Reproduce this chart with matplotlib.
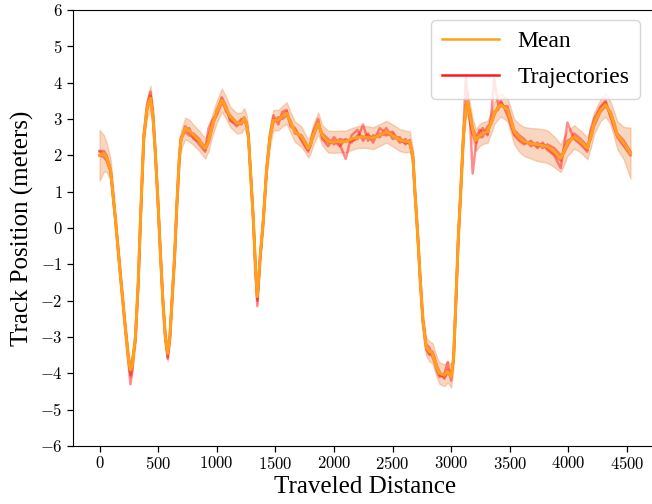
import numpy as np
import matplotlib
matplotlib.use("Agg")
import matplotlib.pyplot as plt
from matplotlib.lines import Line2D
from matplotlib.ticker import FuncFormatter, MultipleLocator

plt.rcParams['font.family'] = ['Liberation Serif', 'DejaVu Serif']
plt.rcParams['mathtext.fontset'] = 'cm'

# distance along the track (sample positions)
distance = [0, 37, 60, 94, 136, 179, 221, 250, 264, 280, 306, 330, 349, 377, 405, 434, 455, 476, 497, 519,
            540, 561, 581, 600, 617, 640, 660, 680, 694, 731, 765, 802, 850, 901, 930, 958, 1000, 1043, 1080, 1114,
            1171, 1210, 1233, 1255, 1270, 1290, 1312, 1330, 1346, 1370, 1397, 1425, 1454, 1483, 1525, 1560, 1596, 1630, 1667, 1723,
            1760, 1780, 1800, 1822, 1865, 1900, 1950, 2000, 2050, 2100, 2150, 2200, 2248, 2290, 2333, 2390, 2446, 2500, 2560, 2610,
            2645, 2673, 2690, 2715, 2735, 2758, 2786, 2815, 2840, 2857, 2880, 2900, 2942, 2970, 2999, 3020, 3040, 3060, 3083, 3105,
            3125, 3140, 3160, 3183, 3211, 3240, 3268, 3310, 3340, 3367, 3400, 3424, 3480, 3537, 3580, 3622, 3680, 3736, 3780, 3820,
            3878, 3934, 3960, 3991, 4048, 4104, 4161, 4190, 4218, 4274, 4317, 4359, 4390, 4416, 4473, 4529]

mean_pos = [2.00, 2.05, 1.95, 1.60, 0.22, -1.34, -2.80, -3.70, -3.90, -3.75, -3.00, -1.50, 0.22, 2.50, 3.30, 3.57, 3.10, 2.06, 0.80, -0.69,
            -2.00, -3.00, -3.45, -3.00, -2.07, -0.80, 0.68, 1.90, 2.42, 2.74, 2.68, 2.56, 2.40, 2.19, 2.40, 2.79, 3.20, 3.52, 3.30, 3.06,
            2.88, 2.90, 3.02, 2.85, 2.51, 1.40, 0.22, -1.10, -1.89, -0.80, 0.22, 1.60, 2.51, 2.97, 2.97, 3.08, 3.16, 2.90, 2.65, 2.51,
            2.30, 2.19, 2.30, 2.56, 2.88, 2.55, 2.38, 2.37, 2.38, 2.38, 2.45, 2.50, 2.51, 2.50, 2.47, 2.56, 2.65, 2.55, 2.42, 2.38,
            2.38, 1.96, 1.00, -0.24, -1.40, -2.53, -3.27, -3.40, -3.45, -3.63, -3.85, -4.00, -4.05, -3.95, -4.09, -3.60, -2.00, -0.30, 1.14, 2.60,
            3.30, 3.48, 3.10, 2.70, 2.42, 2.55, 2.61, 2.65, 2.90, 3.16, 3.32, 3.39, 3.25, 2.65, 2.48, 2.38, 2.33, 2.29, 2.27, 2.24,
            2.10, 1.92, 2.10, 2.33, 2.51, 2.38, 2.19, 2.50, 2.88, 3.25, 3.39, 3.16, 2.85, 2.56, 2.33, 2.06]

std_pos = [0.70, 0.50, 0.40, 0.30, 0.20, 0.18, 0.18, 0.20, 0.22, 0.22, 0.20, 0.18, 0.18, 0.20, 0.25, 0.35, 0.25, 0.20, 0.18, 0.18,
           0.18, 0.20, 0.22, 0.20, 0.18, 0.18, 0.18, 0.22, 0.25, 0.30, 0.30, 0.28, 0.28, 0.28, 0.28, 0.30, 0.30, 0.32, 0.30, 0.28,
           0.28, 0.28, 0.28, 0.25, 0.22, 0.18, 0.18, 0.18, 0.18, 0.18, 0.18, 0.20, 0.25, 0.28, 0.28, 0.28, 0.30, 0.28, 0.28, 0.28,
           0.25, 0.25, 0.25, 0.28, 0.30, 0.28, 0.30, 0.30, 0.30, 0.30, 0.30, 0.30, 0.30, 0.30, 0.30, 0.30, 0.30, 0.30, 0.30, 0.30,
           0.28, 0.22, 0.18, 0.18, 0.18, 0.20, 0.25, 0.28, 0.28, 0.28, 0.28, 0.30, 0.30, 0.30, 0.30, 0.25, 0.20, 0.20, 0.22, 0.25,
           0.30, 0.30, 0.30, 0.30, 0.30, 0.30, 0.30, 0.30, 0.30, 0.30, 0.32, 0.32, 0.32, 0.35, 0.38, 0.40, 0.42, 0.45, 0.45, 0.45,
           0.42, 0.38, 0.38, 0.35, 0.32, 0.30, 0.30, 0.30, 0.30, 0.30, 0.32, 0.32, 0.35, 0.38, 0.45, 0.70]

# individual runs
traj_a = [2.12, 2.12, 2.00, 1.62, 0.25, -1.30, -2.85, -3.85, -4.30, -3.90, -2.95, -1.45, 0.25, 2.55, 3.40, 3.75, 3.20, 2.10, 0.85, -0.65,
          -1.95, -3.05, -3.60, -3.05, -2.10, -0.75, 0.70, 1.95, 2.50, 2.65, 2.55, 2.50, 2.30, 2.10, 2.75, 2.95, 3.15, 3.60, 3.35, 3.00,
          2.80, 2.95, 3.05, 2.90, 2.55, 1.45, 0.25, -1.15, -2.15, -0.85, 0.25, 1.65, 2.60, 3.10, 2.85, 3.20, 3.25, 2.85, 2.75, 2.40,
          2.20, 2.10, 2.35, 2.65, 3.00, 2.45, 2.25, 2.50, 2.30, 1.90, 2.55, 2.70, 2.40, 2.60, 2.35, 2.75, 2.60, 2.65, 2.35, 2.45,
          2.30, 2.05, 1.05, -0.20, -1.35, -2.50, -3.20, -3.30, -3.55, -3.70, -3.95, -4.10, -4.00, -3.70, -4.20, -3.55, -1.95, -0.25, 1.20, 2.70,
          4.20, 3.60, 3.00, 1.50, 2.30, 2.60, 2.75, 2.55, 3.05, 4.10, 3.40, 3.50, 3.10, 2.55, 2.40, 2.30, 2.40, 2.20, 2.35, 2.15,
          2.00, 1.65, 2.20, 2.90, 2.45, 2.30, 2.10, 2.70, 3.00, 3.35, 3.50, 3.05, 2.75, 2.50, 2.25, 2.00]

traj_b = [2.10, 2.05, 1.95, 1.58, 0.20, -1.38, -2.78, -3.72, -4.05, -3.70, -3.05, -1.50, 0.20, 2.45, 3.25, 3.55, 3.05, 2.05, 0.80, -0.70,
          -2.05, -3.00, -3.55, -2.95, -2.05, -0.85, 0.65, 1.85, 2.40, 2.80, 2.62, 2.60, 2.45, 2.15, 2.35, 2.70, 3.25, 3.55, 3.20, 3.10,
          2.90, 2.85, 3.00, 2.80, 2.50, 1.38, 0.20, -1.08, -2.00, -0.78, 0.20, 1.58, 2.50, 2.90, 3.05, 3.00, 3.10, 2.95, 2.60, 2.55,
          2.35, 2.20, 2.30, 2.50, 2.85, 2.60, 2.45, 2.30, 2.45, 2.40, 2.40, 2.45, 2.85, 2.40, 2.55, 2.50, 2.75, 2.45, 2.50, 2.30,
          2.42, 1.90, 0.95, -0.28, -1.45, -2.60, -3.35, -3.50, -3.40, -3.60, -3.80, -3.95, -4.15, -3.90, -4.05, -3.65, -2.05, -0.35, 1.10, 2.55,
          3.30, 3.45, 3.20, 2.75, 2.55, 2.50, 2.50, 2.80, 2.85, 3.10, 3.35, 3.35, 3.35, 2.70, 2.55, 2.45, 2.25, 2.35, 2.20, 2.30,
          2.20, 2.00, 2.05, 2.25, 2.60, 2.45, 2.25, 2.45, 2.80, 3.20, 3.35, 3.20, 2.90, 2.60, 2.40, 2.10]

traj_c = [2.00, 1.95, 1.85, 1.55, 0.18, -1.35, -2.75, -3.65, -3.85, -3.60, -3.10, -1.60, 0.15, 2.50, 3.30, 3.65, 3.15, 2.00, 0.75, -0.72,
          -2.00, -2.95, -3.40, -3.00, -2.00, -0.80, 0.68, 1.90, 2.45, 2.70, 2.75, 2.45, 2.38, 2.25, 2.45, 2.85, 3.10, 3.45, 3.30, 2.95,
          2.85, 3.00, 2.95, 2.85, 2.48, 1.42, 0.18, -1.10, -1.95, -0.82, 0.22, 1.62, 2.48, 3.00, 2.95, 3.10, 3.20, 2.80, 2.70, 2.45,
          2.25, 2.15, 2.25, 2.60, 2.90, 2.50, 2.35, 2.40, 2.25, 2.45, 2.35, 2.55, 2.50, 2.55, 2.45, 2.60, 2.55, 2.60, 2.40, 2.35,
          2.40, 1.95, 1.00, -0.25, -1.40, -2.55, -3.25, -3.45, -3.45, -3.55, -3.85, -4.05, -4.10, -4.00, -4.10, -3.60, -2.00, -0.30, 1.15, 2.60,
          3.40, 3.40, 2.90, 2.60, 2.35, 2.70, 2.65, 2.60, 2.95, 3.20, 3.25, 3.45, 3.20, 2.60, 2.45, 2.35, 2.35, 2.25, 2.30, 2.20,
          2.05, 1.85, 2.15, 2.40, 2.50, 2.35, 2.15, 2.55, 2.90, 3.30, 3.45, 3.10, 2.80, 2.55, 2.30, 2.05]

trajectories = [traj_a, traj_b, traj_c]

MEAN_COLOR = '#ff9f1c'
TRAJ_COLOR = '#ff1a1a'
BAND_COLOR = '#f08a4b'

fig = plt.figure(figsize=(6.52, 5.04), dpi=100)
ax = fig.add_axes([73 / 652, 58 / 504, 584 / 652, 436 / 504])

x = np.array(distance)
m = np.array(mean_pos)
s = np.array(std_pos)

ax.fill_between(x, m - s, m + s, color=BAND_COLOR, alpha=0.35, linewidth=1.0)
for tr in trajectories:
    ax.plot(x, tr, color=TRAJ_COLOR, alpha=0.5, linewidth=1.8)
ax.plot(x, m, color=MEAN_COLOR, linewidth=2.2)

ax.set_ylim(-6, 6)
ax.yaxis.set_major_locator(MultipleLocator(1))
ax.xaxis.set_major_locator(MultipleLocator(500))
fmt = FuncFormatter(lambda v, p: f'${int(round(v))}$')
ax.xaxis.set_major_formatter(fmt)
ax.yaxis.set_major_formatter(fmt)
ax.tick_params(labelsize=12, length=4, width=0.9)

ax.set_xlabel('Traveled Distance', fontsize=18, labelpad=2)
ax.set_ylabel('Track Position (meters)', fontsize=18, labelpad=4)

handles = [Line2D([], [], color=MEAN_COLOR, linewidth=1.8),
           Line2D([], [], color=TRAJ_COLOR, linewidth=1.8)]
ax.legend(handles, ['Mean', 'Trajectories'], loc='upper right', bbox_to_anchor=(0.971, 0.977),
          borderaxespad=0.0, fontsize=17, handlelength=2.4, borderpad=0.45, labelspacing=0.6,
          handletextpad=0.8)

fig.savefig('out.png', dpi=100)
